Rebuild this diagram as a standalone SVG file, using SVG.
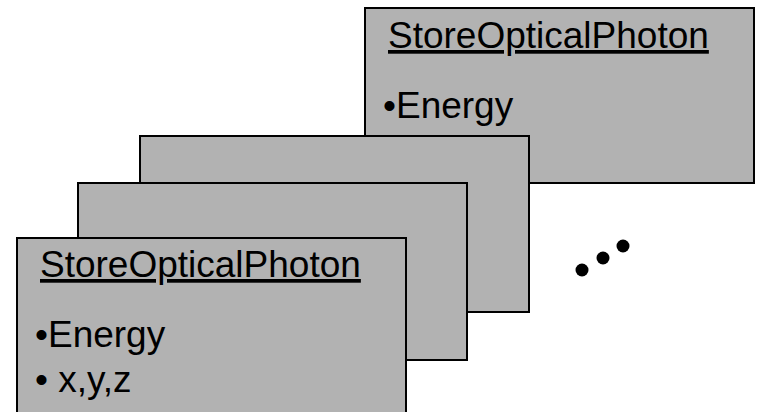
<svg xmlns="http://www.w3.org/2000/svg" width="758" height="412" viewBox="0 0 758 412">
<style>
.card{fill:#b2b2b2;stroke:#000;stroke-width:2}
.t{font-family:"Liberation Sans",Arial,sans-serif;font-size:37px;fill:#000}
.u{text-decoration:underline}
.dot{fill:#000}
</style>
<rect x="0" y="0" width="758" height="412" fill="#fff"/>
<g id="card4">
<rect class="card" x="365" y="8" width="389" height="175"/>
<text class="t u" x="388" y="48">StoreOpticalPhoton</text>
<text class="t" x="383" y="118">•Energy</text>
</g>
<g id="card3">
<rect class="card" x="140" y="136" width="389" height="176"/>
</g>
<g id="card2">
<rect class="card" x="78" y="183" width="389" height="177"/>
</g>
<g id="card1">
<rect class="card" x="17" y="238" width="389" height="190"/>
<text class="t u" x="40" y="277">StoreOpticalPhoton</text>
<text class="t" x="35" y="347">•Energy</text>
<text class="t" x="35" y="392">• x,y,z</text>
</g>
<g id="ellipsis">
<circle class="dot" cx="582" cy="270" r="6.5"/>
<circle class="dot" cx="603" cy="258" r="6.5"/>
<circle class="dot" cx="623" cy="246" r="6.5"/>
</g>
</svg>
